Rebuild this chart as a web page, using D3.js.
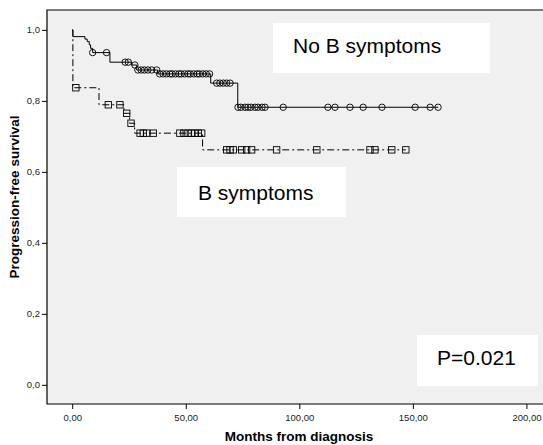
<!DOCTYPE html>
<html>
<head>
<meta charset="utf-8">
<script src="https://cdn.jsdelivr.net/npm/d3@7"></script>
<style>
  body { margin: 0; background: #fff; }
  svg { display: block; font-family: "Liberation Sans", Arial, sans-serif; }
  .tick text { font-size: 9.5px; fill: #222; }
  .axis-title { font-size: 13.5px; font-weight: bold; }
  .note { font-size: 21px; }
</style>
</head>
<body>
<div id="vis"></div>
<script>
// Kaplan-Meier steps: [time, survival after that time]
const noBSteps = [[0, 1.0], [0.3, 0.981], [5.6, 0.974], [6.6, 0.967], [7.5, 0.958], [8.1, 0.948], [9.0, 0.936],
  [16.6, 0.909], [26.2, 0.901], [28.4, 0.887], [37.6, 0.876], [61, 0.85], [72.9, 0.782]];
const noBEnd = 161.2;
const noBCensored = [9.0, 15.1, 23.3, 24.7, 27.6, 28.9, 30.4, 31.8, 33.3, 35, 37.2,
  38.5, 40, 41.5, 43, 44, 45.5, 47, 48, 49.5, 51, 52, 53.5, 55, 56, 57.5, 59, 60.5,
  63.6, 65, 66.5, 68, 69.5,
  73, 74.3, 76.1, 77.4, 78.7, 80.5, 81.8, 83.6, 84.9, 92.9, 112.6, 115.7, 122.3, 128.1, 136.4, 151, 157.6, 161.1];

const bSteps = [[0, 1.0], [0.3, 0.837], [11.8, 0.789], [22.8, 0.765], [25.3, 0.737], [27.5, 0.709], [57.4, 0.662]];
const bEnd = 146.9;
const bCensored = [1.6, 15.9, 21, 24, 25.9, 29.9, 31.3, 32.8, 35.7, 47.4, 49.2, 51, 52.5, 54, 55.5, 57,
  68, 69.5, 70.9, 74.6, 76.8, 79, 90, 107.7, 131.1, 133.3, 140.7, 146.9];

const xTicks = [0, 50, 100, 150, 200];
const yTicks = [0, 0.2, 0.4, 0.6, 0.8, 1.0];

const W = 543, H = 445;
const plot = { left: 47, top: 10, right: 543, bottom: 404 };

const svg = d3.select("#vis").append("svg").attr("width", W).attr("height", H);

const x = d3.scaleLinear().domain([-11.1, 207.3]).range([plot.left, plot.right]);
const y = d3.scaleLinear().domain([-0.054, 1.056]).range([plot.bottom, plot.top]);

svg.append("rect")
  .attr("x", plot.left).attr("y", plot.top)
  .attr("width", plot.right - plot.left).attr("height", plot.bottom - plot.top)
  .attr("fill", "#f0f0f0");

// survival value at time t
function survAt(steps, t) {
  let s = steps[0][1];
  for (const d of steps) if (d[0] <= t) s = d[1];
  return s;
}

const line = d3.line().x((d) => x(d[0])).y((d) => y(d[1])).curve(d3.curveStepAfter);

svg.append("path")
  .datum(noBSteps.concat([[noBEnd, survAt(noBSteps, noBEnd)]]))
  .attr("d", line)
  .attr("fill", "none").attr("stroke", "#000").attr("stroke-width", 1);

svg.append("path")
  .datum(bSteps.concat([[bEnd, survAt(bSteps, bEnd)]]))
  .attr("d", line)
  .attr("fill", "none").attr("stroke", "#000").attr("stroke-width", 1)
  .attr("stroke-dasharray", "7,3,2,3");

svg.selectAll(".cens-nob")
  .data(noBCensored)
  .join("circle")
  .attr("class", "cens-nob")
  .attr("cx", (d) => x(d))
  .attr("cy", (d) => y(survAt(noBSteps, d)))
  .attr("r", 3.2)
  .attr("fill", "none").attr("stroke", "#000").attr("stroke-width", 0.9);

const sq = 6.4;
svg.selectAll(".cens-b")
  .data(bCensored)
  .join("rect")
  .attr("class", "cens-b")
  .attr("x", (d) => x(d) - sq / 2)
  .attr("y", (d) => y(survAt(bSteps, d)) - sq / 2)
  .attr("width", sq).attr("height", sq)
  .attr("fill", "none").attr("stroke", "#000").attr("stroke-width", 0.9);

// axes
const fmt = (d, n) => d.toFixed(n).replace(".", ",");

svg.append("g")
  .attr("transform", `translate(0,${plot.bottom})`)
  .call(d3.axisBottom(x).tickValues(xTicks).tickSize(5).tickPadding(5).tickFormat((d) => fmt(d, 2)))
  .call((g) => g.select(".domain").remove())
  .call((g) => g.selectAll("line").attr("stroke", "#000"));

svg.append("g")
  .attr("transform", `translate(${plot.left},0)`)
  .call(d3.axisLeft(y).tickValues(yTicks).tickSize(5).tickPadding(2).tickFormat((d) => fmt(d, 1)))
  .call((g) => g.select(".domain").remove())
  .call((g) => g.selectAll("line").attr("stroke", "#000"));

// frame
svg.append("path")
  .attr("d", `M${plot.right},${plot.top}H${plot.left}V${plot.bottom}H${plot.right}`)
  .attr("fill", "none").attr("stroke", "#000").attr("stroke-width", 1.2);

svg.append("text")
  .attr("class", "axis-title")
  .attr("x", 299).attr("y", 441)
  .attr("text-anchor", "middle")
  .text("Months from diagnosis");

svg.append("text")
  .attr("class", "axis-title")
  .attr("transform", "rotate(-90)")
  .attr("x", -197).attr("y", 19)
  .attr("text-anchor", "middle")
  .text("Progression-free survival");

// annotation boxes
const notes = [
  { text: "No B symptoms", x0: 273, y0: 23, w: 217, h: 50, tx: 293, ty: 53 },
  { text: "B symptoms", x0: 177, y0: 167, w: 169, h: 50, tx: 198, ty: 200 },
  { text: "P=0.021", x0: 417, y0: 335, w: 121, h: 51, tx: 437, ty: 365 },
];
notes.forEach((n) => {
  svg.append("rect").attr("x", n.x0).attr("y", n.y0).attr("width", n.w).attr("height", n.h).attr("fill", "#fff");
  svg.append("text").attr("class", "note").attr("x", n.tx).attr("y", n.ty).text(n.text);
});
</script>
</body>
</html>
